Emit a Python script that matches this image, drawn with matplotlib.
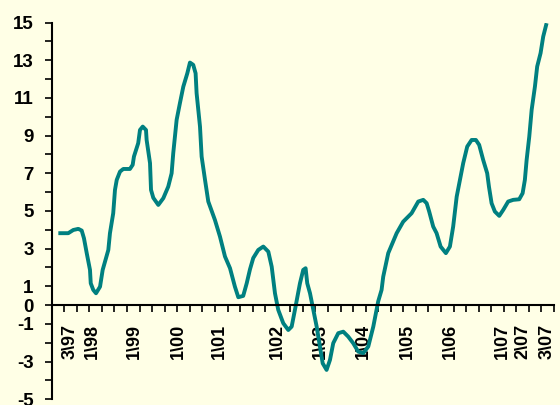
import matplotlib
matplotlib.use("Agg")
import matplotlib.pyplot as plt

# x in tick periods along the category axis, y
period = [0.53, 1.32, 1.72, 2.12, 2.39, 2.57, 2.79, 3.05, 3.11, 3.31, 3.53, 3.85,
          4.06, 4.51, 4.64, 4.90, 5.04, 5.18, 5.44, 5.70, 6.23, 6.45, 6.55, 6.89,
          7.03, 7.25, 7.51, 7.56, 7.83, 7.91, 8.09, 8.49, 8.89, 9.28, 9.55, 9.68,
          9.95, 10.21, 10.48, 10.80, 11.01, 11.27, 11.46, 11.54, 11.81, 11.94, 12.21,
          12.47, 13.00, 13.40, 13.80, 14.20, 14.59, 14.86, 15.25, 15.53, 15.79, 16.05,
          16.45, 16.85, 17.25, 17.52, 17.78, 18.04, 18.44, 18.84, 19.11, 19.37, 19.77,
          20.03, 20.22, 20.35, 20.57, 20.83, 21.10, 21.36, 21.58, 21.89, 22.16, 22.42,
          22.82, 23.22, 23.61, 24.01, 24.41, 24.81, 25.21, 25.61, 26.00, 26.27, 26.40,
          26.80, 27.47, 27.99, 28.66, 29.19, 29.59, 29.86, 30.06, 30.38, 30.65, 30.97,
          31.39, 31.71, 31.97, 32.25, 32.51, 32.77, 33.09, 33.44, 33.78, 34.04, 34.36,
          34.68, 34.82, 35.03, 35.29, 35.64, 35.96, 36.35, 36.75, 37.23, 37.50, 37.68,
          37.82, 38.03, 38.22, 38.48, 38.66, 38.93, 39.14, 39.41]
value = [3.82, 3.82, 3.99, 4.05, 3.96, 3.55, 2.76, 1.87, 1.16, 0.81, 0.63, 0.98,
         1.87, 2.93, 3.82, 4.88, 6.12, 6.65, 7.09, 7.23, 7.23, 7.45, 7.89, 8.60,
         9.30, 9.48, 9.30, 8.77, 7.54, 6.12, 5.70, 5.32, 5.68, 6.29, 7.00, 8.07,
         9.84, 10.72, 11.60, 12.31, 12.88, 12.76, 12.31, 11.25, 9.48, 7.89, 6.65,
         5.50, 4.52, 3.64, 2.58, 1.96, 0.98, 0.42, 0.49, 1.16, 1.90, 2.50,
         2.93, 3.11, 2.84, 2.04, 0.63, -0.25, -0.96, -1.32, -1.14, -0.25, 1.16,
         1.87, 1.96, 1.16, 0.63, -0.25, -1.14, -2.20, -3.09, -3.44, -2.91, -2.02,
         -1.49, -1.41, -1.67, -2.02, -2.47, -2.55, -2.20, -1.14, 0.20, 0.81, 1.51,
         2.76, 3.82, 4.43, 4.88, 5.50, 5.59, 5.41, 4.97, 4.17, 3.82, 3.11,
         2.76, 3.11, 4.17, 5.76, 6.65, 7.54, 8.42, 8.77, 8.77, 8.51, 7.71,
         7.00, 6.29, 5.41, 4.97, 4.74, 5.06, 5.50, 5.59, 5.62, 5.94, 6.65,
         7.71, 8.95, 10.37, 11.60, 12.67, 13.38, 14.26, 14.97]

date_labels = ["3\\97", "1\\98", "1\\99", "1\\00", "1\\01", "1\\02", "1\\03",
               "1\\04", "1\\05", "1\\06", "1\\07", "2\\07", "3\\07"]
date_pos = [1.46, 3.25, 6.55, 10.06, 13.32, 17.98, 21.42, 24.81, 28.33, 31.77,
            35.85, 37.52, 39.47]
y_labelled = [15, 13, 11, 9, 7, 5, 3, 1, 0, -1, -3, -5]

plt.rcParams['font.family'] = ['Liberation Sans', 'DejaVu Sans']
bg = '#FFFFE6'

fig = plt.figure(figsize=(5.6, 4.05), dpi=100, facecolor=bg)
ax = fig.add_axes([0.0923, 0.0141, 0.897, 0.93])
ax.set_facecolor(bg)

ax.plot(period, value, color='#008080', lw=2.8, solid_capstyle='butt')

ax.set_xlim(0, 40)
ax.set_ylim(-5, 15)

for s in ['top', 'right']:
    ax.spines[s].set_visible(False)
ax.spines['bottom'].set_position(('data', 0))
ax.spines['left'].set_linewidth(1.5)
ax.spines['bottom'].set_linewidth(1.5)

# y axis: tick every unit, labels only on some
yt = list(range(-5, 16))
ax.set_yticks(yt)
ax.set_yticklabels([str(v) if v in y_labelled else '' for v in yt])
ax.tick_params(axis='y', direction='out', length=5, width=1.2, pad=8,
               labelsize=13.5)
for t in ax.get_yticklabels():
    t.set_fontweight('bold')

# x axis: plain ticks every period, rotated date labels as minor ticks
ax.set_xticks(range(1, 41))
ax.set_xticklabels([])
ax.tick_params(axis='x', which='major', direction='out', length=5, width=1.2)
ax.set_xticks(date_pos, minor=True)
ax.set_xticklabels(date_labels, minor=True, rotation=90, fontsize=13,
                   fontweight='bold')
ax.tick_params(axis='x', which='minor', length=0, pad=13.5)

fig.savefig('out.png', dpi=100, facecolor=bg)
